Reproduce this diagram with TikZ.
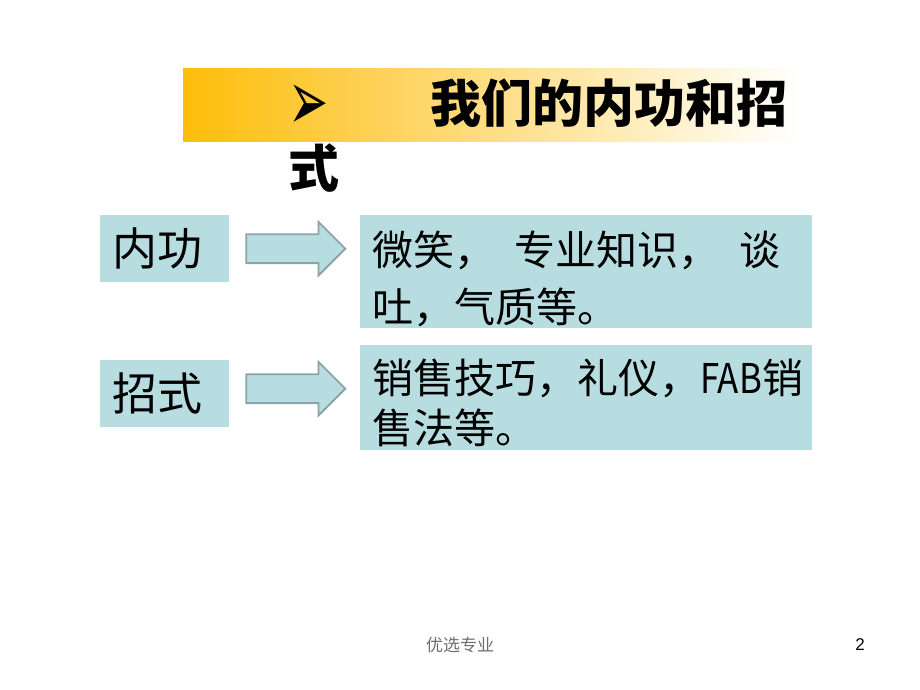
\documentclass[tikz,border=0pt]{standalone}
\usepackage{fontspec}
\setmainfont{Noto Sans CJK SC}
\newfontfamily\bulletfont{DejaVu Sans}
\newfontfamily\numfont{Liberation Sans}
\usetikzlibrary{positioning,calc,shapes.arrows}
\definecolor{boxteal}{RGB}{183,221,224}
\definecolor{arrowgray}{RGB}{140,163,168}
\definecolor{barorange}{RGB}{253,189,10}
\definecolor{footgray}{RGB}{110,110,110}

\begin{document}
\begin{tikzpicture}[x=1pt,y=-1pt]
    \tikzstyle{every node}=[inner sep=0]
    \tikzstyle{bar}=[left color=barorange,right color=white,minimum width=617,minimum height=73]
    \tikzstyle{note}=[anchor=base west,font=\bfseries\fontsize{51}{64}\selectfont]
    \tikzstyle{key}=[fill=boxteal,anchor=north west,text width=105,inner xsep=12,minimum height=67,align=left,font=\fontsize{45}{54}\selectfont]
    \tikzstyle{item}=[fill=boxteal,anchor=north west,text width=428,inner xsep=12,align=left,font=\fontsize{41}{57}\selectfont]
    \tikzstyle{fat}=[single arrow,anchor=tail,fill=boxteal,draw=arrowgray,line width=1.8,inner xsep=0,inner ysep=13.5,minimum height=99,single arrow head extend=12.5,single arrow tip angle=90]

    \useasboundingbox (0,0) rectangle (920,690);

    \node[bar,anchor=north west] (bar) at (183,68) {};
    \node[note] (t0) at (288,123) {\makebox[142pt][l]{\bulletfont\mdseries\fontsize{40}{40}\selectfont\raisebox{-8pt}{\smash{\scalebox{1.2}[2.14]{➢}}}}我们的内功和招};
    \node[note] (t1) at (288,187) {式};

    \node[key] (l0) at (100,215) {内功};
    \node[item,minimum height=113] (r0) at (360,215) {\rule{0pt}{48pt}\makebox[408pt][s]{微笑，\hfil{}专业知识，\hfil{}谈}\\吐，气质等。};
    \node[key] (l1) at (100,360) {招式};
    \node[item,minimum height=105,font=\fontsize{41}{50}\selectfont] (r1) at (360,345) {\rule{0pt}{45pt}销售技巧，礼仪，\scalebox{0.85}[1]{FAB}销\\售法等。};

    \node[fat] (p0) at ($(l0.east)+(16,0)$) {};
    \node[fat,yshift=5] (p1) at ($(l1.east)+(16,0)$) {};

    \node[font=\fontsize{17}{17}\selectfont,text=footgray] (f) at (460,645) {优选专业};
    \node[font=\numfont\fontsize{17}{17}\selectfont] (n) at (860,645) {2};
\end{tikzpicture}
\end{document}
